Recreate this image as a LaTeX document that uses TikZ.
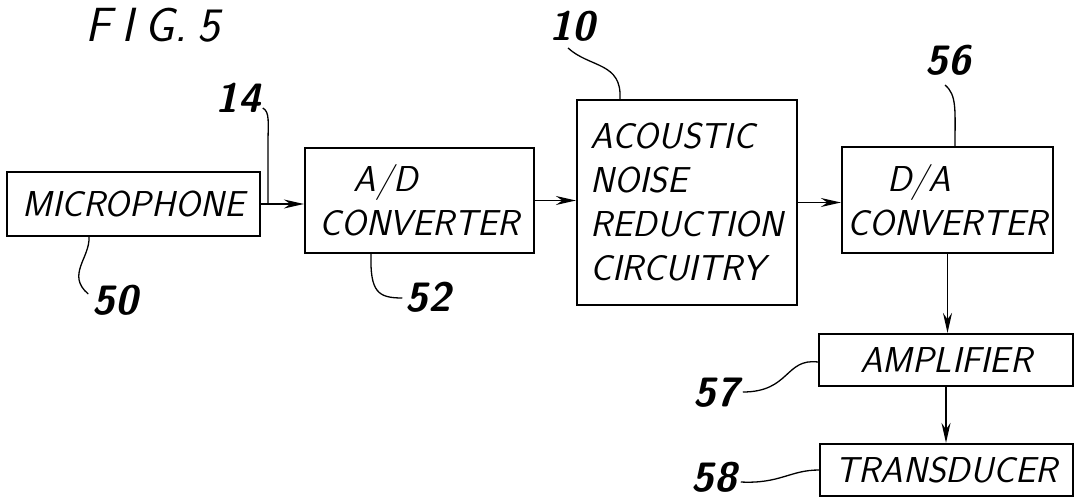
\documentclass[tikz,border=0pt]{standalone}
\usepackage{fontspec}
\usetikzlibrary{arrows.meta}
\begin{document}
\begin{tikzpicture}[x=1pt,y=-1pt,
  box/.style={draw,line width=2.2pt,inner sep=0pt,align=center,
    font=\fontsize{36}{44}\selectfont\sffamily\slshape},
  num/.style={inner sep=0pt,font=\fontsize{41}{43}\selectfont\sffamily\bfseries\slshape},
  arr/.style={line width=1.6pt,-{Stealth[length=20pt,width=9pt]}},
  lead/.style={line width=1.3pt}]
\useasboundingbox (0,0) rectangle (1075,500);
% blocks
\node[box,minimum width=253pt,minimum height=64pt] (mic) at (133.5,204) {MICROPHONE};
\node[box,minimum width=229pt,minimum height=105pt,align=left] (ad) at (419.5,200.5) {\hspace*{0.95em}A/D\\CONVERTER};
\node[box,minimum width=220pt,minimum height=205pt,align=left] (anr) at (687,202.5) {ACOUSTIC\\NOISE\\REDUCTION\\CIRCUITRY};
\node[box,minimum width=211pt,minimum height=106pt,align=left] (da) at (947.5,200) {\hspace*{1.1em}D/A\\CONVERTER};
\node[box,minimum width=254pt,minimum height=52pt] (amp) at (946,360) {AMPLIFIER};
\node[box,minimum width=253pt,minimum height=52pt] (tr) at (946.5,470) {TRANSDUCER};
% title
\node[inner sep=0pt,font=\fontsize{48}{50}\selectfont\sffamily\slshape] (fig) at (153,25) {F\kern0.22em I\kern0.22em G.\kern0.22em 5};
% reference numerals
\node[num] (l14) at (238,98) {14};
\node[num] (l50) at (115,300) {50};
\node[num] (l52) at (428,297) {52};
\node[num] (l10) at (572,26) {10};
\node[num] (l56) at (948,60) {56};
\node[num] (l57) at (716,393) {57};
\node[num] (l58) at (714,477) {58};
% connectors
\draw[arr] (mic.east) -- (ad.west |- mic.east);
\draw[arr] (ad.east) -- (anr.west |- ad.east);
\draw[arr] (anr.east) -- (da.west |- anr.east);
\draw[arr] (da.south) -- (da.south |- amp.north);
\draw[arr] (amp.south) -- (amp.south |- tr.north);
% leaders
\coordinate (c14) at (268,204);
\draw[lead] ([shift={(2,10)}]l14.east) .. controls (270,112) and (268,122) .. (268,145) -- (c14);
\draw[lead] ([xshift=-44.5pt]mic.south) .. controls (90,258) and (66,275) .. ([shift={(-4,-6)}]l50.west);
\draw[lead] ([xshift=-48.5pt]ad.south) .. controls (370,292) and (378,298) .. ([shift={(-3,1)}]l52.west);
\draw[lead] ([shift={(-4,22)}]l10.center) .. controls (590,68) and (622,62) .. ([xshift=-67pt]anr.north);
\draw[lead] ([shift={(-3,25)}]l56.center) .. controls (957,95) and (955,110) .. ([xshift=7.5pt]da.north);
\draw[lead] ([shift={(4,-1)}]l57.east) .. controls (790,392) and (785,358) .. ([yshift=-2pt]amp.west);
\draw[lead] ([shift={(4,5)}]l58.east) .. controls (780,484) and (790,470) .. (tr.west);
\end{tikzpicture}
\end{document}
